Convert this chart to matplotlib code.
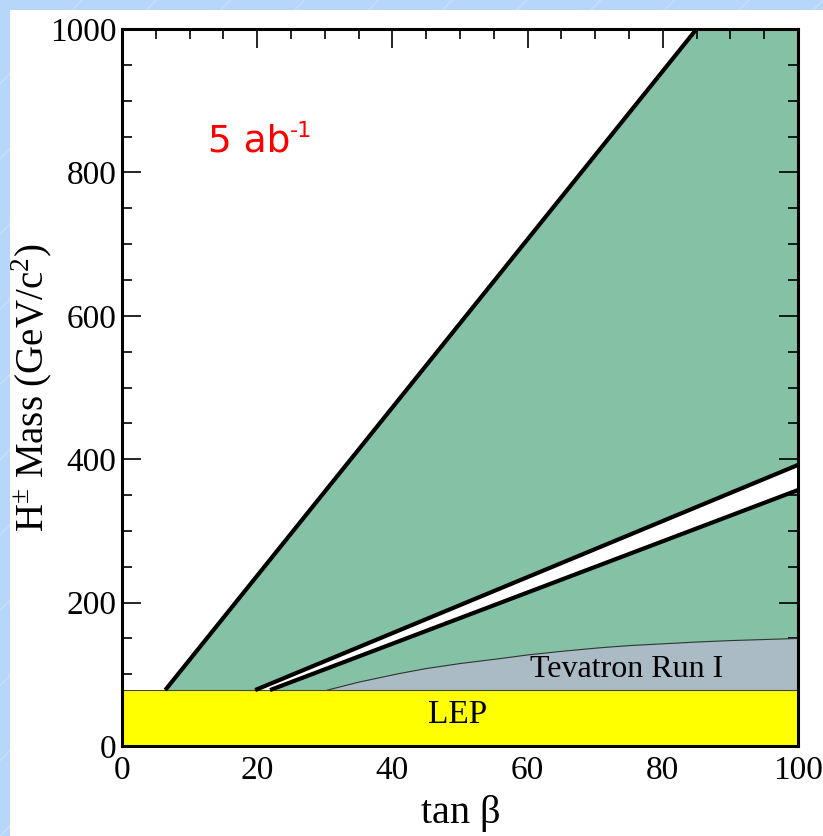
import matplotlib
matplotlib.use("Agg")
import matplotlib.pyplot as plt
from matplotlib.patches import Rectangle
from matplotlib.lines import Line2D
from matplotlib.ticker import MultipleLocator

# --- data ---
lep_limit = 78

# 5 ab^-1 reach: upper edge of the green region
upper_tanb = [6.4, 85.0]
upper_mass = [78, 1000]

# white intermediate band (no sensitivity)
band_hi_tanb = [19.7, 100.0]
band_hi_mass = [78, 392]
band_lo_tanb = [21.9, 100.0]
band_lo_mass = [78, 357]

# Tevatron Run I exclusion curve
tev_tanb = [30.4, 35, 41, 45, 50, 56, 60, 65, 70.7, 75, 85, 90, 95, 100]
tev_mass = [78, 89, 101, 108, 115, 122, 127, 132, 137, 140, 145, 147, 148.5, 150]

green = "#84c1a5"
grey = "#aabbc6"
yellow = "#ffff00"

plt.rcParams['font.family'] = ['Liberation Serif', 'DejaVu Serif']
plt.rcParams['mathtext.fontset'] = 'custom'
plt.rcParams['mathtext.rm'] = 'Liberation Serif'

fig = plt.figure(figsize=(8.23, 8.36), dpi=100)
fig.patch.set_facecolor("#b6d7fa")
# faint diagonal streaks of the slide background
for k in range(-10, 12):
    x0 = k * 0.09
    fig.add_artist(Line2D([x0, x0 + 1.0], [0, 1.0], transform=fig.transFigure,
                          color="#c9e2fc", lw=0.8, zorder=-10))
# white slide panel
fig.patches.append(Rectangle((10 / 823, 0), 1, 826 / 836, transform=fig.transFigure,
                             facecolor="white", edgecolor="none", zorder=-5))

ax = fig.add_axes([122 / 823, 90 / 836, 676 / 823, 717 / 836])
ax.set_facecolor("white")
ax.set_xlim(0, 100)
ax.set_ylim(0, 1000)

# green reach region
ax.fill([upper_tanb[0], upper_tanb[1], 100, 100],
        [upper_mass[0], upper_mass[1], 1000, lep_limit], color=green, lw=0, zorder=1)
# white band
ax.fill([band_hi_tanb[0], band_hi_tanb[1], band_lo_tanb[1], band_lo_tanb[0]],
        [band_hi_mass[0], band_hi_mass[1], band_lo_mass[1], band_lo_mass[0]],
        color="white", lw=0, zorder=2)
# Tevatron region
ax.fill_between(tev_tanb, lep_limit, tev_mass, color=grey, lw=0, zorder=2)
ax.plot(tev_tanb, tev_mass, color="#333333", lw=0.8, zorder=3)
# LEP band
ax.add_patch(Rectangle((0, 0), 100, lep_limit, facecolor=yellow, edgecolor="none", zorder=3))
ax.plot([0, 100], [lep_limit, lep_limit], color="#444444", lw=0.8, zorder=3)

# boundary lines
ax.plot(upper_tanb, upper_mass, color="black", lw=3.0, zorder=4, solid_capstyle="butt")
ax.plot(band_hi_tanb, band_hi_mass, color="black", lw=3.0, zorder=4, solid_capstyle="butt")
ax.plot(band_lo_tanb, band_lo_mass, color="black", lw=3.0, zorder=4, solid_capstyle="butt")

ax.text(74.6, 106, "Tevatron Run I", fontsize=23, ha="center", va="center", zorder=5)
ax.text(49.7, 43, "LEP", fontsize=24, ha="center", va="center", zorder=5)
lumi = ax.text(12.7, 843, "5 ab", fontsize=27, color="red", ha="left", va="center",
               family=["DejaVu Sans"], zorder=5)
ax.annotate("-1", xy=(1.0, 0.78), xycoords=lumi, fontsize=16, color="red",
            ha="left", va="center", family=["DejaVu Sans"], zorder=5)

ax.xaxis.set_major_locator(MultipleLocator(20))
ax.xaxis.set_minor_locator(MultipleLocator(5))
ax.yaxis.set_major_locator(MultipleLocator(200))
ax.yaxis.set_minor_locator(MultipleLocator(50))
ax.tick_params(which="both", direction="in", top=True, right=True, width=1.2, labelsize=24)
ax.tick_params(which="major", length=14)
ax.tick_params(which="minor", length=7)
ax.tick_params(axis="x", which="major", pad=7)
ax.tick_params(axis="y", which="major", pad=4)
for s in ax.spines.values():
    s.set_linewidth(2.2)
    s.set_zorder(6)

ax.set_xlabel(r"tan $\mathrm{\beta}$", fontsize=29, labelpad=5)
ax.set_ylabel(r"H$^{\pm}$ Mass (GeV/c$^{2}$)", fontsize=28)
ax.yaxis.set_label_coords(-0.099, 0.5)

fig.savefig("out.png", dpi=100, facecolor=fig.get_facecolor())
